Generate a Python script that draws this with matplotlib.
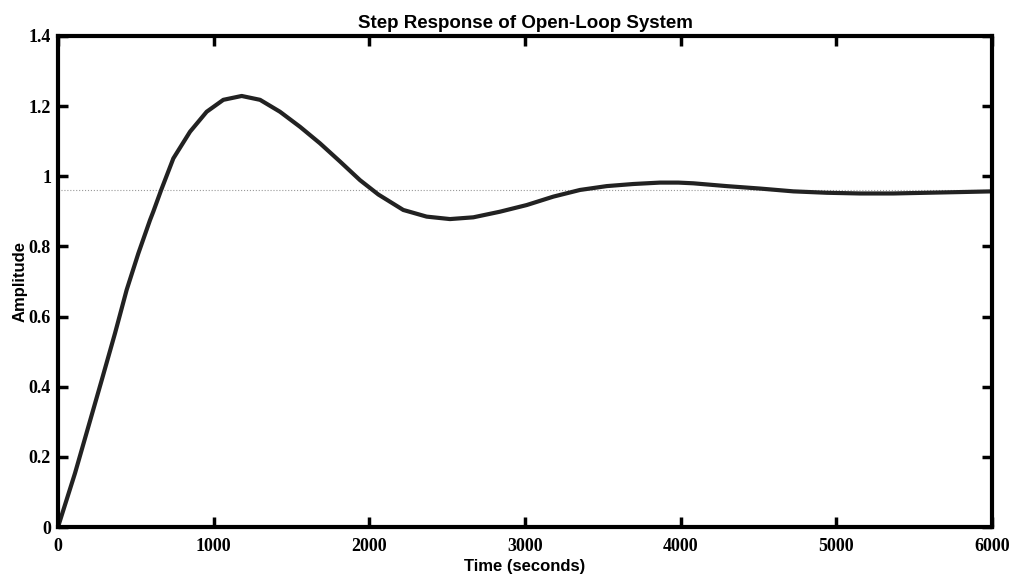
import numpy as np
import matplotlib.pyplot as plt
from matplotlib import font_manager

# step response samples (time in seconds, amplitude)
t = [0, 109, 195, 281, 366, 441, 516, 591, 612, 662, 741, 848, 955, 1062,
     1180, 1298, 1426, 1555, 1683, 1812, 1940, 2058, 2218, 2368, 2518,
     2668, 2839, 3011, 3182, 3353, 3525, 3696, 3867, 3985, 4081, 4295,
     4510, 4724, 4938, 5152, 5366, 5580, 5794, 6000]
y = [0.0, 0.153, 0.286, 0.419, 0.552, 0.676, 0.780, 0.875, 0.899, 0.960,
     1.051, 1.127, 1.184, 1.218, 1.229, 1.218, 1.184, 1.141, 1.094, 1.042,
     0.989, 0.948, 0.904, 0.885, 0.878, 0.883, 0.899, 0.918, 0.942, 0.961,
     0.972, 0.978, 0.982, 0.982, 0.980, 0.972, 0.965, 0.957, 0.953, 0.951,
     0.951, 0.953, 0.955, 0.957]
y_final = 0.961

xticks = [0, 1000, 2000, 3000, 4000, 5000, 6000]
yticks = [0, 0.2, 0.4, 0.6, 0.8, 1.0, 1.2, 1.4]
yticklabels = ['0', '0.2', '0.4', '0.6', '0.8', '1', '1.2', '1.4']

names = {f.name for f in font_manager.fontManager.ttflist}
narrow = 'Liberation Sans Narrow' if 'Liberation Sans Narrow' in names else 'Liberation Sans'

fig = plt.figure(figsize=(10.12, 5.79), dpi=100)
ax = fig.add_axes([58 / 1012, 1 - 527 / 579, 934 / 1012, 491 / 579])

ax.plot([0, 6000], [y_final, y_final], color='#999999', linestyle=':', linewidth=0.8)
ax.plot(t, y, color='#222222', linewidth=3.0, solid_capstyle='round', solid_joinstyle='round')

ax.set_xlim(0, 6000)
ax.set_ylim(0, 1.4)
ax.set_xticks(xticks)
ax.set_xticklabels([str(v) for v in xticks])
ax.set_yticks(yticks)
ax.set_yticklabels(yticklabels)
ax.tick_params(direction='in', length=7, width=2.5, top=True, right=True)
ax.tick_params(axis='x', pad=8)
ax.tick_params(axis='y', pad=5)
for lab in ax.get_xticklabels() + ax.get_yticklabels():
    lab.set_fontfamily('Liberation Serif')
    lab.set_fontweight('bold')
    lab.set_fontsize(13)
for s in ax.spines.values():
    s.set_linewidth(3)

ax.set_title('Step Response of Open-Loop System', family=narrow, fontweight='bold', fontsize=13.5, pad=6)
ax.set_xlabel('Time (seconds)', family='Liberation Sans', fontweight='bold', fontsize=12, labelpad=3)
ax.set_ylabel('Amplitude', family='Liberation Sans', fontweight='bold', fontsize=12, labelpad=1)

plt.savefig('out.png', dpi=100)
